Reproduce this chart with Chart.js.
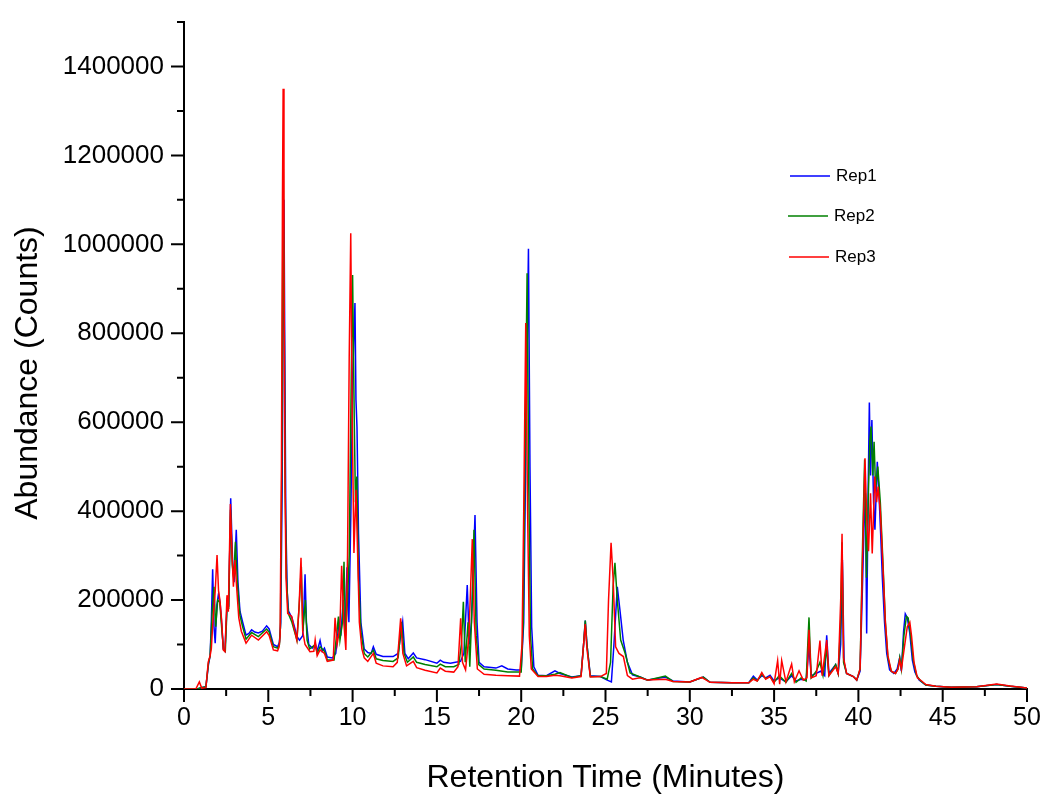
<!DOCTYPE html>
<html lang="en">
<head>
    <meta charset="UTF-8">
    <title>Chromatogram - Rep1 / Rep2 / Rep3</title>
    <script src="https://cdn.jsdelivr.net/npm/chart.js"></script>
    <style>
        html, body {
            margin: 0;
            padding: 0;
            background: #fff;
        }

        #chart-container {
            width: 1050px;
            height: 809px;
        }
    </style>
</head>
<body>
    <div id="chart-container">
        <canvas id="tic"></canvas>
    </div>

    <script>
        // [retention time (min), abundance (counts)]
        const rep1 = [
            [0, 0], [0.8, 0], [1.0, 3000], [1.3, 5000], [1.45, 55000], [1.55, 75000], [1.62, 150000],
            [1.7, 269000], [1.78, 140000], [1.85, 103000], [1.95, 190000], [2.05, 215000], [2.15, 190000],
            [2.25, 140000], [2.33, 90000], [2.43, 85000], [2.57, 205000], [2.65, 185000], [2.77, 429000],
            [2.88, 290000], [2.97, 240000], [3.1, 358000], [3.2, 240000], [3.32, 175000], [3.48, 150000],
            [3.68, 121000], [3.85, 125000], [4.01, 133000], [4.2, 128000], [4.41, 126000], [4.65, 130000],
            [4.9, 142000], [5.05, 135000], [5.3, 100000], [5.55, 95000], [5.66, 105000], [5.74, 150000],
            [5.82, 450000], [5.88, 850000], [5.93, 1100000], [5.98, 750000], [6.04, 380000], [6.12, 220000],
            [6.2, 175000], [6.4, 160000], [6.55, 140000], [6.7, 118000], [6.85, 110000], [7.04, 120000],
            [7.1, 170000], [7.18, 258000], [7.26, 150000], [7.4, 100000], [7.6, 92000], [7.8, 100000],
            [7.9, 85000], [8.07, 109000], [8.2, 85000], [8.33, 92000], [8.5, 72000], [8.8, 70000],
            [9.0, 80000], [9.2, 150000], [9.3, 120000], [9.45, 200000], [9.55, 130000], [9.67, 274000],
            [9.78, 150000], [9.9, 400000], [10.0, 700000], [10.14, 868000], [10.2, 650000], [10.26, 590000],
            [10.35, 350000], [10.49, 150000], [10.69, 90000], [10.9, 82000], [11.1, 80000], [11.23, 95000],
            [11.4, 78000], [11.8, 73000], [12.4, 73000], [12.7, 80000], [12.85, 120000], [12.97, 151000],
            [13.1, 80000], [13.3, 68000], [13.6, 81000], [13.8, 70000], [14.3, 66000], [15.0, 58000],
            [15.2, 65000], [15.4, 60000], [15.8, 58000], [16.1, 60000], [16.4, 62000], [16.6, 80000],
            [16.8, 234000], [16.92, 100000], [17.05, 150000], [17.26, 391000], [17.38, 150000], [17.5, 60000],
            [17.8, 50000], [18.5, 47000], [18.85, 52000], [19.2, 45000], [19.7, 43000], [20.0, 43000],
            [20.15, 150000], [20.28, 550000], [20.43, 990000], [20.52, 500000], [20.62, 140000], [20.75, 50000],
            [21.0, 31000], [21.5, 30000], [22.0, 41000], [22.3, 35000], [23.0, 27000], [23.55, 30000],
            [23.7, 100000], [23.8, 154000], [23.9, 100000], [24.1, 30000], [24.7, 28000], [25.1, 20000],
            [25.35, 16000], [25.5, 100000], [25.7, 230000], [25.85, 180000], [26.05, 110000], [26.3, 60000],
            [26.6, 32000], [27.05, 27000], [27.5, 20000], [28.55, 27000], [29.0, 18000], [30.0, 16000],
            [30.8, 27000], [31.2, 15000], [32.5, 14000], [33.5, 14000], [33.77, 29000], [34.0, 20000],
            [34.27, 30000], [34.5, 25000], [34.76, 31000], [35.0, 18000], [35.3, 25000], [35.7, 16000],
            [36.04, 30000], [36.3, 18000], [36.6, 22000], [36.9, 20000], [37.07, 95000], [37.2, 30000],
            [37.5, 35000], [37.75, 40000], [38.0, 30000], [38.12, 121000], [38.25, 35000], [38.65, 55000],
            [38.8, 35000], [38.95, 100000], [39.05, 290000], [39.15, 60000], [39.3, 35000], [39.7, 28000],
            [39.9, 20000], [40.1, 40000], [40.22, 200000], [40.33, 360000], [40.42, 440000], [40.49, 125000],
            [40.58, 450000], [40.65, 644000], [40.72, 480000], [40.8, 605000], [40.9, 420000], [40.98, 358000],
            [41.12, 511000], [41.22, 440000], [41.32, 350000], [41.42, 250000], [41.55, 150000], [41.68, 80000],
            [41.85, 43000], [42.1, 35000], [42.3, 45000], [42.45, 70000], [42.55, 40000], [42.68, 130000],
            [42.78, 169000], [42.9, 160000], [43.05, 125000], [43.2, 65000], [43.35, 38000], [43.6, 20000],
            [44.0, 9000], [44.6, 6000], [45.5, 4000], [47.0, 5000], [48.2, 10000], [49.0, 6000], [50.0, 2000]
        ];

        const rep2 = [
            [0, 0], [0.8, 0], [1.0, 3000], [1.3, 5000], [1.45, 58000], [1.55, 75000], [1.68, 180000],
            [1.78, 230000], [1.88, 140000], [2.0, 200000], [2.12, 195000], [2.25, 130000], [2.35, 88000],
            [2.45, 85000], [2.57, 200000], [2.65, 180000], [2.76, 403000], [2.86, 280000], [2.95, 250000],
            [3.05, 331000], [3.18, 230000], [3.32, 165000], [3.48, 140000], [3.68, 112000], [4.01, 127000],
            [4.41, 118000], [4.9, 135000], [5.05, 128000], [5.3, 95000], [5.55, 92000], [5.66, 100000],
            [5.72, 140000], [5.8, 500000], [5.86, 1000000], [5.89, 1170000], [5.95, 800000], [6.0, 450000],
            [6.08, 250000], [6.18, 170000], [6.4, 150000], [6.55, 130000], [6.7, 110000], [6.85, 200000],
            [6.96, 275000], [7.05, 130000], [7.2, 200000], [7.3, 110000], [7.45, 90000], [7.78, 100000],
            [7.9, 80000], [8.07, 95000], [8.33, 85000], [8.5, 65000], [8.9, 65000], [9.16, 163000],
            [9.25, 110000], [9.4, 150000], [9.49, 286000], [9.58, 120000], [9.7, 200000], [9.8, 300000],
            [9.92, 700000], [10.0, 931000], [10.1, 600000], [10.17, 420000], [10.25, 478000], [10.35, 250000],
            [10.49, 130000], [10.69, 80000], [10.9, 72000], [11.23, 87000], [11.4, 68000], [11.8, 64000],
            [12.4, 62000], [12.7, 70000], [12.9, 151000], [13.05, 80000], [13.25, 60000], [13.6, 72000],
            [13.8, 60000], [14.3, 55000], [15.0, 50000], [15.2, 56000], [15.5, 50000], [16.0, 50000],
            [16.3, 55000], [16.45, 100000], [16.57, 196000], [16.68, 60000], [16.85, 150000], [16.95, 50000],
            [17.1, 200000], [17.2, 358000], [17.33, 120000], [17.48, 55000], [17.8, 45000], [18.5, 42000],
            [19.2, 38000], [20.0, 38000], [20.12, 150000], [20.22, 500000], [20.35, 935000], [20.45, 450000],
            [20.55, 120000], [20.68, 45000], [21.0, 30000], [21.5, 30000], [22.0, 33000], [22.3, 37000],
            [23.0, 26000], [23.55, 30000], [23.7, 100000], [23.8, 154000], [23.9, 100000], [24.1, 28000],
            [24.7, 28000], [25.1, 22000], [25.3, 60000], [25.45, 230000], [25.56, 284000], [25.7, 200000],
            [25.9, 110000], [26.16, 81000], [26.46, 36000], [27.05, 27000], [27.5, 20000], [28.55, 29000],
            [29.0, 17000], [30.0, 16000], [30.8, 27000], [31.2, 15000], [32.5, 14000], [33.5, 14000],
            [33.77, 25000], [34.0, 18000], [34.27, 33000], [34.5, 24000], [34.76, 28000], [35.0, 15000],
            [35.3, 30000], [35.7, 15000], [36.04, 35000], [36.3, 15000], [36.6, 25000], [36.9, 18000],
            [37.07, 161000], [37.2, 25000], [37.5, 40000], [37.72, 60000], [37.9, 30000], [38.12, 90000],
            [38.25, 30000], [38.65, 55000], [38.8, 35000], [38.95, 150000], [39.03, 330000], [39.12, 60000],
            [39.3, 35000], [39.7, 28000], [39.9, 20000], [40.1, 45000], [40.25, 330000], [40.37, 516000],
            [40.48, 250000], [40.6, 450000], [40.68, 560000], [40.75, 590000], [40.85, 480000], [40.93, 556000],
            [41.02, 450000], [41.15, 500000], [41.3, 420000], [41.45, 290000], [41.6, 150000], [41.75, 70000],
            [41.95, 40000], [42.2, 35000], [42.35, 45000], [42.45, 70000], [42.55, 45000], [42.7, 120000],
            [42.85, 163000], [42.95, 160000], [43.1, 120000], [43.25, 65000], [43.45, 30000], [43.7, 18000],
            [44.0, 9000], [44.6, 6000], [45.5, 4000], [47.0, 5000], [48.2, 10000], [49.0, 6000], [50.0, 2000]
        ];

        const rep3 = [
            [0, 0], [0.7, 0], [0.91, 16000], [1.05, 2000], [1.3, 3000], [1.44, 61000], [1.54, 73000],
            [1.62, 90000], [1.72, 155000], [1.85, 220000], [1.96, 301000], [2.05, 220000], [2.13, 200000],
            [2.23, 155000], [2.33, 88000], [2.43, 84000], [2.55, 211000], [2.63, 174000], [2.75, 416000],
            [2.85, 300000], [2.93, 230000], [3.02, 290000], [3.12, 230000], [3.25, 160000], [3.4, 130000],
            [3.68, 103000], [4.01, 121000], [4.41, 110000], [4.9, 129000], [5.05, 120000], [5.3, 88000],
            [5.55, 86000], [5.64, 95000], [5.7, 120000], [5.78, 500000], [5.84, 1100000], [5.88, 1350000],
            [5.93, 1000000], [5.98, 500000], [6.05, 250000], [6.15, 170000], [6.39, 163000], [6.49, 144000],
            [6.69, 110000], [6.82, 180000], [6.94, 295000], [7.04, 130000], [7.18, 100000], [7.47, 84000],
            [7.7, 85000], [7.78, 110000], [7.9, 75000], [8.07, 88000], [8.33, 80000], [8.5, 62000],
            [8.85, 65000], [8.96, 160000], [9.08, 100000], [9.25, 140000], [9.35, 277000], [9.48, 150000],
            [9.6, 88000], [9.7, 300000], [9.8, 750000], [9.89, 1025000], [9.98, 600000], [10.08, 306000],
            [10.2, 448000], [10.3, 300000], [10.4, 150000], [10.55, 90000], [10.69, 70000], [10.9, 62000],
            [11.23, 80000], [11.4, 58000], [11.8, 52000], [12.4, 50000], [12.65, 60000], [12.85, 159000],
            [12.98, 80000], [13.2, 52000], [13.6, 62000], [13.8, 48000], [14.3, 42000], [15.0, 36000],
            [15.2, 47000], [15.5, 40000], [16.0, 38000], [16.25, 50000], [16.41, 159000], [16.52, 60000],
            [16.7, 43000], [16.9, 120000], [17.1, 337000], [17.22, 150000], [17.4, 45000], [17.8, 33000],
            [18.5, 31000], [19.2, 30000], [19.9, 29000], [20.05, 100000], [20.15, 400000], [20.27, 823000],
            [20.38, 400000], [20.48, 120000], [20.6, 45000], [21.0, 28000], [21.5, 28000], [22.0, 31000],
            [22.3, 30000], [23.0, 25000], [23.55, 28000], [23.7, 100000], [23.8, 146000], [23.9, 90000],
            [24.1, 27000], [24.7, 28000], [25.05, 35000], [25.18, 200000], [25.33, 329000], [25.45, 250000],
            [25.6, 95000], [25.8, 80000], [26.06, 73000], [26.3, 30000], [26.6, 22000], [27.05, 25000],
            [27.5, 20000], [28.55, 22000], [29.0, 17000], [30.0, 16000], [30.7, 26000], [31.2, 15000],
            [32.5, 14000], [33.5, 14000], [33.77, 22000], [34.0, 18000], [34.27, 37000], [34.5, 22000],
            [34.76, 28000], [35.0, 12000], [35.21, 64000], [35.33, 11000], [35.45, 64000], [35.7, 16000],
            [36.04, 56000], [36.2, 16000], [36.48, 41000], [36.73, 20000], [36.95, 25000], [37.07, 133000],
            [37.2, 25000], [37.5, 30000], [37.72, 109000], [37.85, 30000], [38.12, 110000], [38.25, 30000],
            [38.65, 50000], [38.8, 35000], [38.95, 200000], [39.03, 349000], [39.12, 70000], [39.3, 35000],
            [39.7, 28000], [39.9, 20000], [40.1, 45000], [40.25, 300000], [40.39, 519000], [40.5, 380000],
            [40.6, 310000], [40.72, 440000], [40.82, 305000], [40.97, 478000], [41.08, 420000], [41.17, 455000],
            [41.3, 400000], [41.45, 280000], [41.6, 150000], [41.75, 75000], [41.95, 40000], [42.2, 35000],
            [42.35, 45000], [42.45, 65000], [42.55, 45000], [42.75, 100000], [42.9, 140000], [43.05, 150000],
            [43.15, 120000], [43.3, 60000], [43.5, 25000], [43.75, 18000], [44.0, 10000], [44.6, 6000],
            [45.5, 4000], [47.0, 5000], [48.2, 11000], [49.0, 7000], [50.0, 2000]
        ];

        const seriesNames = ['Rep1', 'Rep2', 'Rep3'];
        const seriesColors = ['#0000ff', '#008000', '#ff0000'];
        const xTickLabels = [0, 5, 10, 15, 20, 25, 30, 35, 40, 45, 50];
        const yTickLabels = [0, 200000, 400000, 600000, 800000, 1000000, 1200000, 1400000];

        const FONT = "'Liberation Sans', Arial, sans-serif";

        // outward tick marks, long for labelled ticks and short for the ones in between
        const tickMarks = {
            id: 'tickMarks',
            afterDraw(chart) {
                const ctx = chart.ctx;
                const xs = chart.scales.x;
                const ys = chart.scales.y;
                ctx.save();
                ctx.strokeStyle = '#000';
                ctx.lineWidth = 2;
                ctx.beginPath();
                xs.ticks.forEach(t => {
                    const px = xs.getPixelForValue(t.value);
                    const len = xTickLabels.includes(t.value) ? 13 : 7;
                    ctx.moveTo(px, xs.top);
                    ctx.lineTo(px, xs.top + len);
                });
                ys.ticks.forEach(t => {
                    const py = ys.getPixelForValue(t.value);
                    const len = yTickLabels.includes(t.value) ? 13 : 7;
                    ctx.moveTo(ys.right, py);
                    ctx.lineTo(ys.right - len, py);
                });
                ctx.stroke();

                // y axis title, sits a bit below the middle of the axis in the original
                ctx.fillStyle = '#000';
                ctx.font = '32px ' + FONT;
                ctx.textAlign = 'center';
                ctx.textBaseline = 'middle';
                ctx.translate(28, 373);
                ctx.rotate(-Math.PI / 2);
                ctx.fillText('Abundance (Counts)', 0, 0);
                ctx.restore();
            }
        };

        // small legend inside the plot, top right
        const repLegend = {
            id: 'repLegend',
            afterDraw(chart) {
                const ctx = chart.ctx;
                const rows = [176, 216, 257];
                const starts = [790, 788, 789];
                ctx.save();
                ctx.font = '17px ' + FONT;
                ctx.textBaseline = 'middle';
                ctx.fillStyle = '#000';
                seriesNames.forEach((name, i) => {
                    ctx.strokeStyle = seriesColors[i];
                    ctx.lineWidth = 1.4;
                    ctx.beginPath();
                    ctx.moveTo(starts[i], rows[i]);
                    ctx.lineTo(starts[i] + 40, rows[i]);
                    ctx.stroke();
                    ctx.fillText(name, starts[i] + 46, rows[i]);
                });
                ctx.restore();
            }
        };

        function createChart() {
            const ctx = document.getElementById('tic').getContext('2d');
            const series = [rep1, rep2, rep3];

            new Chart(ctx, {
                type: 'line',
                data: {
                    datasets: series.map((s, i) => ({
                        label: seriesNames[i],
                        data: s.map(p => ({ x: p[0], y: p[1] })),
                        borderColor: seriesColors[i],
                        borderWidth: 1.5,
                        pointRadius: 0,
                        tension: 0,
                        fill: false,
                        order: 2 - i
                    }))
                },
                options: {
                    responsive: true,
                    maintainAspectRatio: false,
                    animation: false,
                    layout: {
                        padding: { top: 22, right: 23, left: 0, bottom: 0 }
                    },
                    plugins: {
                        legend: { display: false },
                        tooltip: { enabled: false }
                    },
                    scales: {
                        x: {
                            type: 'linear',
                            min: 0,
                            max: 50,
                            afterFit: scale => {
                                scale.height = 120;
                                scale.paddingLeft = 0;
                                scale.paddingRight = 0;
                            },
                            grid: { drawOnChartArea: false, drawTicks: false },
                            border: { color: '#000', width: 2 },
                            ticks: {
                                stepSize: 2.5,
                                padding: 14,
                                color: '#000',
                                font: { family: FONT, size: 25 },
                                maxRotation: 0,
                                autoSkip: false,
                                callback: v => xTickLabels.includes(v) ? String(v) : ''
                            },
                            title: {
                                display: true,
                                text: 'Retention Time (Minutes)',
                                color: '#000',
                                font: { family: FONT, size: 32 },
                                padding: { bottom: 12 }
                            }
                        },
                        y: {
                            min: 0,
                            max: 1500000,
                            afterFit: scale => {
                                scale.width = 184;
                                scale.paddingTop = 0;
                                scale.paddingBottom = 0;
                            },
                            grid: { drawOnChartArea: false, drawTicks: false },
                            border: { color: '#000', width: 2 },
                            ticks: {
                                stepSize: 100000,
                                padding: 20,
                                color: '#000',
                                font: { family: FONT, size: 26 },
                                autoSkip: false,
                                callback: v => yTickLabels.includes(v) ? String(v) : ''
                            }
                        }
                    }
                },
                plugins: [tickMarks, repLegend]
            });
        }

        createChart();
    </script>
</body>
</html>
